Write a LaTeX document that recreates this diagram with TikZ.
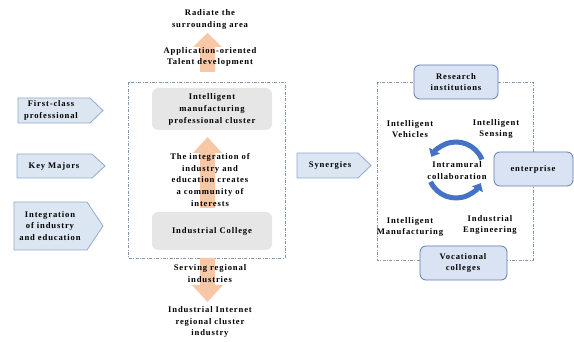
\documentclass[tikz,border=0pt]{standalone}
\usepackage{fontspec}
\setmainfont{Liberation Serif}[LetterSpace=10]
\usetikzlibrary{arrows.meta}
\definecolor{sigfill}{HTML}{DCE6F2}
\definecolor{sigdraw}{HTML}{8FA9CF}
\definecolor{boxfill}{HTML}{DAE3F3}
\definecolor{boxdraw}{HTML}{5B7DB1}
\definecolor{dashc}{HTML}{8497B0}
\definecolor{grayfill}{HTML}{E6E6E6}
\definecolor{peach}{HTML}{F8C8A6}
\definecolor{arcblue}{HTML}{4472C4}
\tikzset{
  txt/.style={align=center, font=\fontsize{8.6}{11.6}\selectfont\bfseries, inner sep=0pt},
  sigshape/.style={fill=sigfill, draw=sigdraw, line width=0.8pt},
  bluebox/.style={fill=boxfill, draw=boxdraw, line width=0.8pt, rounded corners=6pt},
  graybox/.style={fill=grayfill, rounded corners=6pt},
  dashbox/.style={draw=dashc, line width=0.6pt, dash pattern=on 3pt off 1.5pt on 0.8pt off 1.5pt},
  oarrow/.style={fill=peach},
  cyc/.style={draw=arcblue, line width=5pt, -{Triangle[width=12pt,length=7pt]}}
}
\begin{document}
\begin{tikzpicture}[x=1pt,y=-1pt]
\useasboundingbox (0,0) rectangle (574,342);
% dashed frames
\draw[dashbox] (128,82) rectangle (285,258);
\draw[dashbox] (377,82) rectangle (533,260);
% orange arrows
\fill[oarrow] (200,72) -- (200,47) -- (193,47) -- (207.5,33) -- (222,47) -- (215,47) -- (215,72) -- cycle;
\fill[oarrow] (200,208) -- (200,153) -- (193,153) -- (207.5,137) -- (222,153) -- (215,153) -- (215,208) -- cycle;
\fill[oarrow] (200,258) -- (200,285) -- (192,285) -- (207.5,302) -- (223,285) -- (215,285) -- (215,258) -- cycle;
% gray boxes
\fill[graybox] (152,88) rectangle (272,130);
\fill[graybox] (152,212) rectangle (272,250);
% left signals
\draw[sigshape] (18,98) -- (90,98) -- (103,110.5) -- (90,123) -- (18,123) -- cycle;
\draw[sigshape] (17,154) -- (92,154) -- (105,166) -- (92,178) -- (17,178) -- cycle;
\draw[sigshape] (14,202) -- (87,202) -- (103,226) -- (87,250) -- (14,250) -- cycle;
\draw[sigshape] (297,153) -- (358,153) -- (371,165.5) -- (358,178) -- (297,178) -- cycle;
% blue rounded boxes
\draw[bluebox] (414,65) rectangle (498,99);
\draw[bluebox] (494,152) rectangle (573,186);
\draw[bluebox] (420,246) rectangle (507,280);
% cycle arrows
\draw[cyc] (456,170) ++(155:28) arc[start angle=155, end angle=28, radius=28];
\draw[cyc] (456,170) ++(-22:28) arc[start angle=-22, end angle=-152, radius=28];
% texts
\node[txt] (rad) at (210,19.5) {Radiate the\\surrounding area};
\node[txt] (app) at (210,57) {Application-oriented\\Talent development};
\node[txt] (cluster) at (212,109.5) {Intelligent\\manufacturing\\professional cluster};
\node[txt] (integ) at (210,180) {The integration of\\industry and\\education creates\\a community of\\interests};
\node[txt] (college) at (212,231) {Industrial College};
\node[txt] (serv) at (210,273.5) {Serving regional\\industries};
\node[txt] (iir) at (210,322) {Industrial Internet\\regional cluster\\industry};
\node[txt] (fc) at (51,110.5) {First-class\\professional};
\node[txt] (km) at (54,166) {Key Majors};
\node[txt] (ioi) at (50,226) {Integration\\of industry\\and education};
\node[txt] (syn) at (330,165.5) {Synergies};
\node[txt] (ri) at (456,82) {Research\\institutions};
\node[txt] (ent) at (533,169) {enterprise};
\node[txt] (voc) at (463,263) {Vocational\\colleges};
\node[txt] (iv) at (410,129) {Intelligent\\Vehicles};
\node[txt] (is) at (496,129) {Intelligent\\Sensing};
\node[txt] (ic) at (457,170.5) {Intramural\\collaboration};
\node[txt] (im) at (410,227) {Intelligent\\Manufacturing};
\node[txt] (ie) at (490,225) {Industrial\\Engineering};
\end{tikzpicture}
\end{document}
